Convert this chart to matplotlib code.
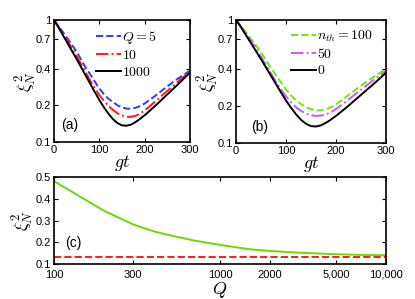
import matplotlib
matplotlib.use("Agg")
import matplotlib.pyplot as plt
from matplotlib.ticker import FixedLocator, FixedFormatter, NullLocator

plt.rcParams['font.family'] = ['Liberation Sans', 'DejaVu Sans']
plt.rcParams['mathtext.fontset'] = 'cm'

# === Data: panels (a) and (b), every 10 units of gt ===
gt = [0, 10, 20, 30, 40, 50, 60, 70, 80, 90, 100, 110, 120, 130, 140, 150,
      160, 170, 180, 190, 200, 210, 220, 230, 240, 250, 260, 270, 280, 290, 300]
xi_q1000 = [1.0, 0.871, 0.750, 0.646, 0.556, 0.479, 0.410, 0.351, 0.300, 0.257, 0.221,
            0.193, 0.171, 0.154, 0.143, 0.137, 0.136, 0.139, 0.146, 0.155, 0.166,
            0.179, 0.193, 0.209, 0.227, 0.246, 0.267, 0.289, 0.314, 0.342, 0.372]
xi_q5 = [1.0, 0.891, 0.794, 0.705, 0.624, 0.550, 0.473, 0.407, 0.359, 0.313, 0.275,
         0.247, 0.226, 0.213, 0.200, 0.192, 0.188, 0.187, 0.191, 0.197, 0.207,
         0.220, 0.234, 0.250, 0.268, 0.286, 0.305, 0.325, 0.344, 0.364, 0.385]
xi_q10 = [1.0, 0.881, 0.773, 0.676, 0.586, 0.506, 0.435, 0.372, 0.318, 0.277, 0.243,
          0.218, 0.198, 0.183, 0.172, 0.165, 0.161, 0.161, 0.164, 0.171, 0.182,
          0.195, 0.210, 0.226, 0.244, 0.263, 0.283, 0.305, 0.328, 0.353, 0.380]

xi_n100 = [1.0, 0.89, 0.79, 0.70, 0.62, 0.545, 0.47, 0.405, 0.355, 0.31, 0.272,
           0.243, 0.222, 0.207, 0.195, 0.188, 0.184, 0.184, 0.188, 0.195, 0.206,
           0.22, 0.236, 0.254, 0.273, 0.292, 0.312, 0.333, 0.354, 0.377, 0.40]
xi_n50 = [1.0, 0.88, 0.772, 0.674, 0.583, 0.502, 0.43, 0.367, 0.313, 0.272, 0.239,
          0.214, 0.195, 0.182, 0.173, 0.168, 0.166, 0.167, 0.171, 0.178, 0.189,
          0.202, 0.217, 0.234, 0.252, 0.271, 0.291, 0.313, 0.336, 0.36, 0.385]
xi_n0 = xi_q1000

# === Data: panel (c) ===
Q = [100, 200, 300, 400, 500, 700, 1000, 1500, 2000, 3000, 5000, 7000, 10000]
xi_Q = [0.481, 0.345, 0.282, 0.25, 0.232, 0.208, 0.188, 0.168, 0.160, 0.152, 0.145, 0.142, 0.140]
xi_ideal = [0.133] * len(Q)

gt_ticks = [0, 100, 200, 300]
xi_ticks = [0.1, 0.2, 0.4, 0.7, 1]
xi_tick_labels = ["0.1", "0.2", "0.4", "0.7", "1"]
Q_ticks = [100, 300, 1000, 2000, 5000, 10000]
Q_tick_labels = ["100", "300", "1000", "2000", "5,000", "10,000"]

fig = plt.figure(figsize=(4.15, 2.99), dpi=100)
ax_a = fig.add_axes([0.130, 0.525, 0.328, 0.408])
ax_b = fig.add_axes([0.569, 0.522, 0.361, 0.411])
ax_c = fig.add_axes([0.130, 0.117, 0.800, 0.291])

ylab = r'$\xi_N^2$'


def style_top(ax):
    ax.set_yscale('log')
    ax.set_xlim(0, 300)
    ax.set_ylim(0.1, 1)
    ax.yaxis.set_major_locator(FixedLocator(xi_ticks))
    ax.yaxis.set_major_formatter(FixedFormatter(xi_tick_labels))
    ax.yaxis.set_minor_locator(NullLocator())
    ax.set_xticks(gt_ticks)
    ax.tick_params(direction='in', top=True, right=True, labelsize=8, length=3, pad=2)
    ax.set_xlabel(r'$gt$', fontsize=13, labelpad=-1)
    ax.set_ylabel(ylab, fontsize=13, labelpad=-2)
    for s in ax.spines.values():
        s.set_linewidth(1.2)


leg_kw = dict(loc='upper left', frameon=False, fontsize=10, handlelength=1.8,
              handletextpad=0.1, labelspacing=0.2, borderpad=0.2)

# === Panel (a) ===
ax_a.plot(gt, xi_q5, '--', color='#2a3cff', lw=1.4, label=r'$Q=5$')
ax_a.plot(gt, xi_q10, '-.', color='#ff1a1a', lw=1.4, label=r'$10$')
ax_a.plot(gt, xi_q1000, '-', color='black', lw=1.4, label=r'$1000$')
style_top(ax_a)
ax_a.legend(bbox_to_anchor=(0.235, 1.01), **leg_kw)
ax_a.text(0.05, 0.11, '(a)', transform=ax_a.transAxes, fontsize=10)

# === Panel (b) ===
ax_b.plot(gt, xi_n100, '--', color='#66ee00', lw=1.4, label=r'$n_{th}=100$')
ax_b.plot(gt, xi_n50, '-.', color='#cc55ff', lw=1.4, label=r'$50$')
ax_b.plot(gt, xi_n0, '-', color='black', lw=1.4, label=r'$0$')
style_top(ax_b)
ax_b.legend(bbox_to_anchor=(0.30, 1.01), **leg_kw)
ax_b.text(0.1, 0.1, '(b)', transform=ax_b.transAxes, fontsize=10)

# === Panel (c) ===
ax_c.plot(Q, xi_Q, '-', color='#66dd00', lw=1.4)
ax_c.plot(Q, xi_ideal, '--', color='#ff1a1a', lw=1.4)
ax_c.set_xscale('log')
ax_c.set_xlim(100, 10000)
ax_c.set_ylim(0.1, 0.5)
ax_c.xaxis.set_major_locator(FixedLocator(Q_ticks))
ax_c.xaxis.set_major_formatter(FixedFormatter(Q_tick_labels))
ax_c.xaxis.set_minor_locator(NullLocator())
ax_c.set_yticks([0.1, 0.2, 0.3, 0.4, 0.5])
ax_c.tick_params(direction='in', top=True, right=True, labelsize=8, length=3, pad=2)
ax_c.tick_params(axis='x', pad=4)
ax_c.set_xlabel(r'$Q$', fontsize=13, labelpad=0)
ax_c.set_ylabel(ylab, fontsize=13, labelpad=0)
for s in ax_c.spines.values():
    s.set_linewidth(1.2)
ax_c.text(0.035, 0.2, '(c)', transform=ax_c.transAxes, fontsize=10)

fig.savefig("out.png", dpi=100)
